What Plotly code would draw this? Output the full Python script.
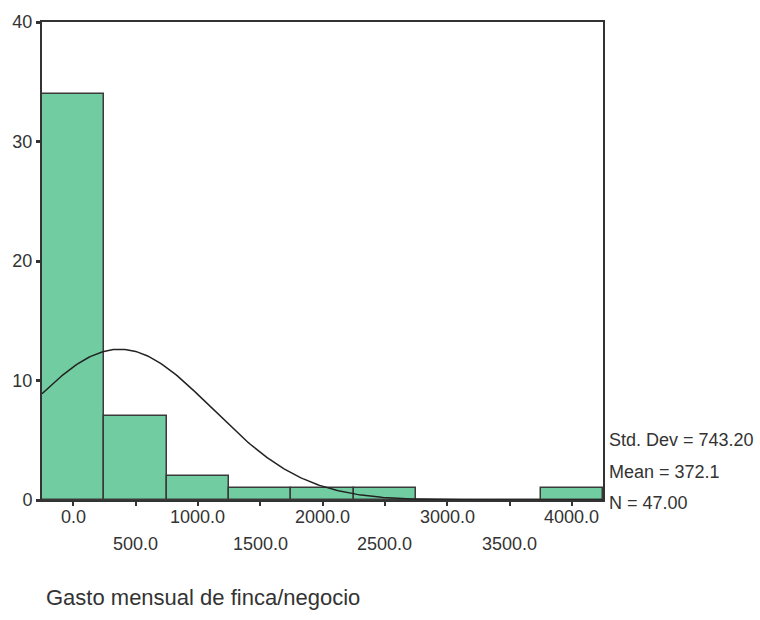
import numpy as np
import plotly.graph_objects as go

# Data
bin_centers = [0, 500, 1000, 1500, 2000, 2500, 3000, 3500, 4000]
counts = [34, 7, 2, 1, 1, 1, 0, 0, 1]
bin_width = 500
tick_labels = ["0.0", "500.0", "1000.0", "1500.0", "2000.0", "2500.0", "3000.0", "3500.0", "4000.0"]
std_dev = 743.20
mean = 372.1
n = 47.00
x_title = "Gasto mensual de finca/negocio"

# Normal curve defined by the displayed statistics
xs = np.linspace(bin_centers[0] - bin_width / 2, bin_centers[-1] + bin_width / 2, 300)
ys = n * bin_width / (std_dev * np.sqrt(2 * np.pi)) * np.exp(-0.5 * ((xs - mean) / std_dev) ** 2)

fig = go.Figure()
fig.add_trace(go.Bar(
    x=bin_centers, y=counts, width=[bin_width] * len(bin_centers),
    marker=dict(color="#72cca1", line=dict(color="#3a3a3a", width=1.5)),
    hoverinfo="x+y",
))
fig.add_trace(go.Scatter(x=xs, y=ys, mode="lines", line=dict(color="#222222", width=1.5), hoverinfo="skip"))

font = "Liberation Sans, Arial, sans-serif"
annotations = []
for i, (c, t) in enumerate(zip(bin_centers, tick_labels)):
    annotations.append(dict(
        x=c, xref="x", y=-0.035 if i % 2 == 0 else -0.093, yref="paper",
        text=t, showarrow=False, xanchor="center", yanchor="middle",
        font=dict(family=font, size=18, color="#333333"),
    ))
stats = [f"Std. Dev = {std_dev:.2f}", f"Mean = {mean:.1f}", f"N = {n:.2f}"]
for j, s in enumerate(stats):
    annotations.append(dict(
        x=1.008, xref="paper", y=0.125 - j * 0.066, yref="paper",
        text=s, showarrow=False, xanchor="left", yanchor="middle",
        font=dict(family=font, size=18, color="#333333"),
    ))
annotations.append(dict(
    x=0.003, xref="paper", y=-0.205, yref="paper",
    text=x_title, showarrow=False, xanchor="left", yanchor="middle",
    font=dict(family=font, size=22, color="#333333"),
))

fig.update_layout(
    width=760, height=620,
    margin=dict(l=40, r=157, t=16, b=120),
    paper_bgcolor="white", plot_bgcolor="white",
    showlegend=False, bargap=0,
    annotations=annotations,
    xaxis=dict(
        range=[-250, 4250], tickvals=bin_centers, showticklabels=False,
        ticks="outside", ticklen=4, tickwidth=1.5, tickcolor="#333333",
        showline=True, linecolor="#333333", linewidth=2, mirror=True,
        showgrid=False, zeroline=False,
    ),
    yaxis=dict(
        range=[0, 40], tickvals=[0, 10, 20, 30, 40],
        ticks="outside", ticklen=4, tickwidth=3, tickcolor="#333333",
        tickfont=dict(family=font, size=18, color="#333333"),
        showline=True, linecolor="#333333", linewidth=2, mirror=True,
        showgrid=False, zeroline=False,
    ),
)

fig.write_html("out.html")
